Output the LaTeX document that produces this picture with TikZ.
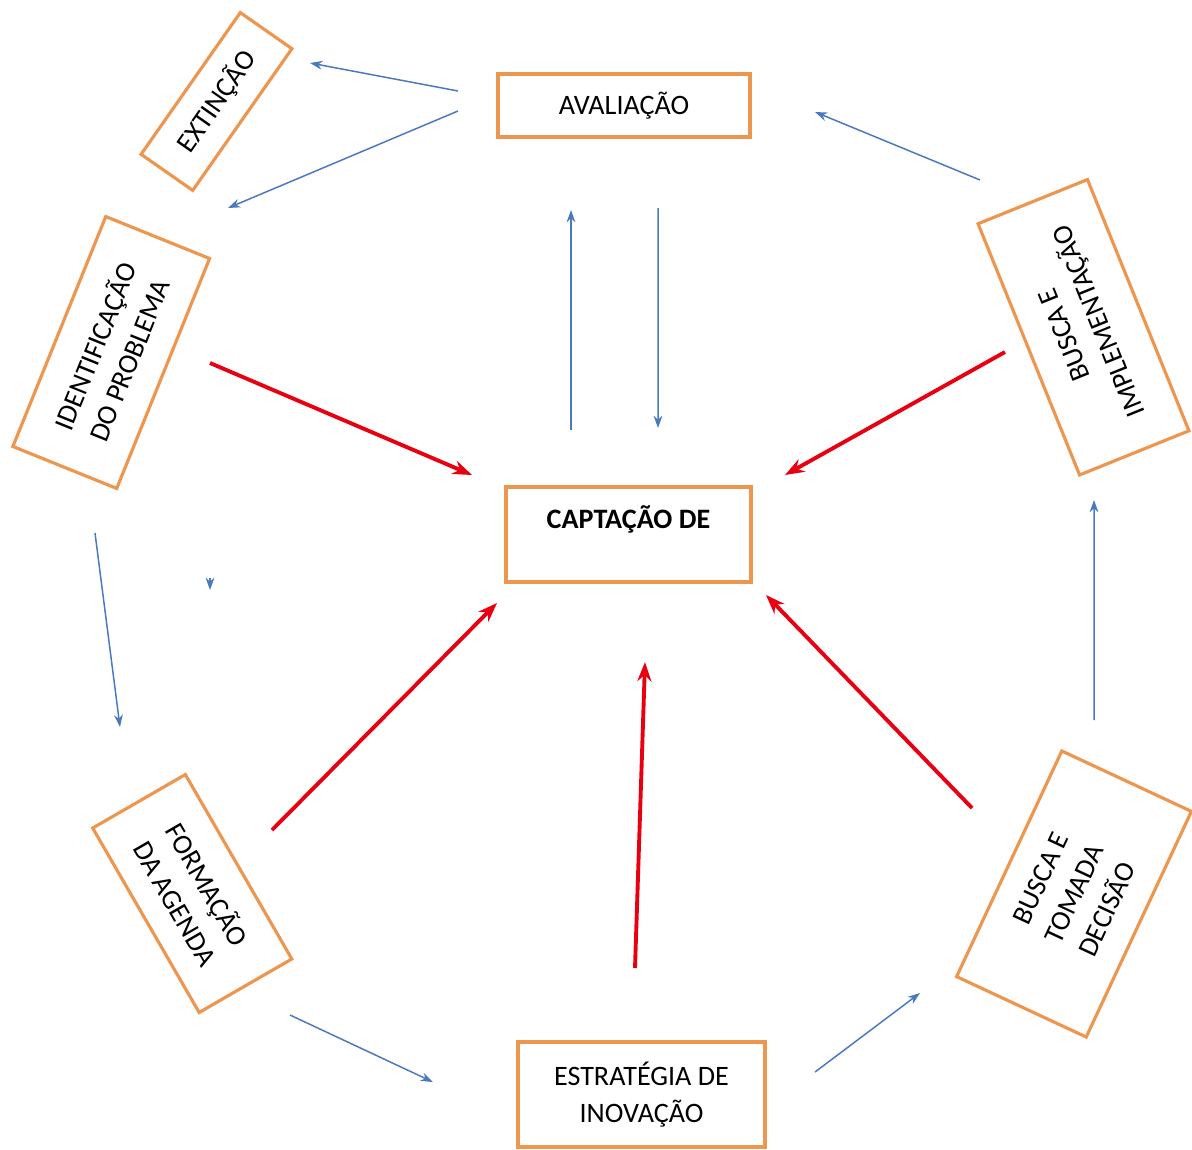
\documentclass[tikz,border=0pt]{standalone}
\usepackage{fontspec}
\setmainfont{Carlito}
\usetikzlibrary{arrows.meta}

\definecolor{boxorange}{RGB}{237,150,80}
\definecolor{flowblue}{RGB}{74,122,190}
\definecolor{flowred}{RGB}{232,0,16}

\tikzset{
  stage/.style={draw=boxorange, line width=1.8pt, align=center, inner sep=2pt,
    font=\fontsize{16}{21}\selectfont},
  flow/.style={-{Stealth[length=7pt,width=5pt]}, draw=flowblue, line width=0.85pt},
  feed/.style={-{Stealth[length=11pt,width=8pt]}, draw=flowred, line width=2.2pt},
}

\begin{document}
\begin{tikzpicture}[x=0.02cm,y=-0.02cm]
\useasboundingbox (0,0) rectangle (1192,1149);

\node [stage, minimum width=5.04cm, minimum height=1.26cm]            (avaliacao)     at ( 624,  105.5) {AVALIAÇÃO};
\node [stage, minimum width=4.90cm, minimum height=1.90cm, font=\fontsize{16}{21}\selectfont\bfseries]
                                                                       (captacao)      at ( 628.5, 534.5) {CAPTAÇÃO DE\\[-8pt]\strut};
\node [stage, minimum width=4.94cm, minimum height=2.10cm]            (estrategia)    at ( 641.5,1094.5) {ESTRATÉGIA DE\\ INOVAÇÃO};
\node [stage, rotate=55,  minimum width=3.46cm, minimum height=1.26cm] (extincao)      at ( 216.5, 101.5) {EXTINÇÃO};
\node [stage, rotate=68,  minimum width=4.96cm, minimum height=2.24cm] (identificacao) at ( 111.25,352.5) {IDENTIFICAÇÃO\\ DO PROBLEMA};
\node [stage, rotate=-60, minimum width=4.26cm, minimum height=2.14cm] (formacao)      at ( 192.25,893.5) {FORMAÇÃO\\ DA AGENDA};
\node [stage, rotate=65,  minimum width=4.98cm, minimum height=2.86cm] (tomada)        at (1074,   894)   {BUSCA E\\ TOMADA\\ DECISÃO};
\node [stage, rotate=112, minimum width=5.42cm, minimum height=2.36cm] (implementacao) at (1083.5, 327.25) {BUSCA E\\ IMPLEMENTAÇÃO};
\coordinate (stray) at (210,578);

\draw [flow] ([shift={(-166,-14.5)}]avaliacao.center)     -- ([shift={(93.5,-38.5)}]extincao.center);
\draw [flow] ([shift={(-166,5.5)}]avaliacao.center)       -- ([shift={(116.75,-144.5)}]identificacao.center);
\draw [flow] ([shift={(-57.5,-104.5)}]captacao.center)    -- ([shift={(-53,104.5)}]avaliacao.center);
\draw [flow] ([shift={(34,102.5)}]avaliacao.center)       -- ([shift={(29.5,-106.5)}]captacao.center);
\draw [flow] ([shift={(-103.5,-147.25)}]implementacao.center) -- ([shift={(191,6.5)}]avaliacao.center);
\draw [flow] ([shift={(20,-174)}]tomada.center)           -- ([shift={(10.5,172.75)}]implementacao.center);
\draw [flow] ([shift={(-16.25,180.5)}]identificacao.center) -- ([shift={(-72.25,-166.5)}]formacao.center);
\draw [flow] (stray) -- ++(0,12);
\draw [flow] ([shift={(97.75,121.5)}]formacao.center)     -- ([shift={(-208.5,-12.5)}]estrategia.center);
\draw [flow] ([shift={(173.5,-22.5)}]estrategia.center)   -- ([shift={(-154,99)}]tomada.center);

\draw [feed] ([shift={(98.75,10.5)}]identificacao.center) -- ([shift={(-156.5,-59.5)}]captacao.center);
\draw [feed] ([shift={(-78.5,24.75)}]implementacao.center) -- ([shift={(156.5,-59.5)}]captacao.center);
\draw [feed] ([shift={(79.75,-63.5)}]formacao.center)     -- ([shift={(-131.5,68.5)}]captacao.center);
\draw [feed] ([shift={(-6.5,-126.5)}]estrategia.center)   -- ([shift={(16.5,127.5)}]captacao.center);
\draw [feed] ([shift={(-102,-86)}]tomada.center)          -- ([shift={(137.5,60.5)}]captacao.center);
\end{tikzpicture}
\end{document}
